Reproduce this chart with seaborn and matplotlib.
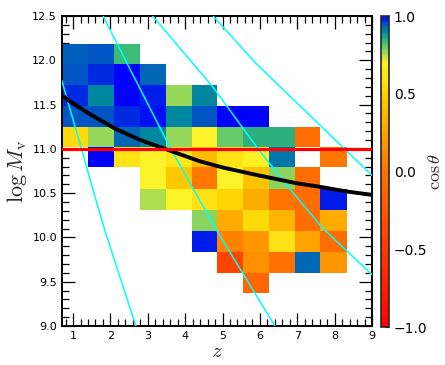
import numpy as np
import pandas as pd
import matplotlib
matplotlib.use("Agg")
import matplotlib.pyplot as plt
from matplotlib.colors import LinearSegmentedColormap, Normalize
from matplotlib.ticker import MultipleLocator
import seaborn as sns

# bin edges (redshift and log virial mass)
z_edges = [0.72, 1.41, 2.10, 2.79, 3.48, 4.17, 4.86, 5.55, 6.24, 6.93, 7.62, 8.33]
m_edges = [9.37, 9.60, 9.84, 10.07, 10.31, 10.55, 10.79, 11.02, 11.25, 11.48, 11.72, 11.96, 12.19]

# mean cos(theta) per cell, rows from the lowest mass bin upwards, None = empty
N = None
cos_theta = [
    [N, N, N, N, N, N, N, -0.12, N, N, N],
    [N, N, N, N, N, N, -0.40, 0.15, -0.02, 0.93, 0.18],
    [N, N, N, N, N, 0.98, 0.08, 0.18, 0.60, 0.25, -0.05],
    [N, N, N, N, N, 0.78, 0.30, 0.55, 0.35, -0.05, 0.30],
    [N, N, N, 0.75, 0.70, 0.60, 0.52, 0.30, 0.00, -0.05, 0.98],
    [N, N, N, 0.70, 0.45, 0.03, 0.70, 0.42, 0.78, -0.05, N],
    [N, 1.00, 0.60, 0.70, 0.62, 0.38, 0.60, 0.68, 0.92, N, 0.03],
    [0.55, 0.77, 0.93, 0.90, 0.77, 0.70, 0.80, 0.85, 0.85, -0.05, N],
    [0.95, 0.95, 0.97, 0.99, 0.90, 0.95, 1.00, 1.00, N, N, N],
    [0.97, 0.90, 1.00, 0.98, 0.77, 0.90, N, N, N, N, N],
    [0.95, 0.97, 1.00, 0.93, N, N, N, N, N, N, N],
    [0.94, 0.95, 0.83, N, N, N, N, N, N, N, N],
]

# black curve
curve_z = [0.76, 0.87, 1.2, 1.5, 2.12, 2.8, 3.46, 4.39, 5.0, 5.86, 7.0, 7.63, 8.3, 9.0]
curve_m = [11.59, 11.55, 11.46, 11.38, 11.23, 11.10, 11.00, 10.86, 10.79, 10.71, 10.61, 10.57, 10.52, 10.48]

# cyan lines
cyan_lines = {
    "a": ([0.70, 1.225, 1.535, 1.85, 2.68], [11.77, 11.00, 10.535, 10.08, 9.00]),
    "b": ([1.80, 3.59, 4.84, 6.40], [12.50, 11.02, 10.08, 9.00]),
    "c": ([3.13, 4.74, 5.95, 6.80, 7.69, 9.0], [12.50, 11.70, 11.00, 10.55, 10.10, 9.58]),
    "d": ([4.75, 5.86, 9.0], [12.50, 11.98, 10.70]),
}
m_cut = 11.0

cmap = LinearSegmentedColormap.from_list("cos", [
    (0.000, (1.0, 0.0, 0.0)),
    (0.500, (1.0, 0.45, 0.0)),
    (0.750, (1.0, 0.82, 0.0)),
    (0.850, (1.0, 0.95, 0.15)),
    (0.885, (0.6, 0.85, 0.35)),
    (0.915, (0.25, 0.75, 0.45)),
    (0.950, (0.0, 0.55, 0.6)),
    (0.975, (0.0, 0.35, 0.75)),
    (1.000, (0.0, 0.0, 1.0)),
])

sns.set_style("ticks")
plt.rcParams["mathtext.fontset"] = "cm"

fig = plt.figure(figsize=(4.45, 3.65), dpi=100)
ax = fig.add_axes([0.139, 0.107, 0.697, 0.849])
cax = fig.add_axes([0.856, 0.104, 0.018, 0.852])

vals = np.array([[np.nan if v is None else v for v in row] for row in cos_theta])
mesh = ax.pcolormesh(z_edges, m_edges, np.ma.masked_invalid(vals), cmap=cmap,
                     norm=Normalize(-1, 1), zorder=1)

lines_df = pd.DataFrame([(k, x, y) for k, (xs, ys) in cyan_lines.items() for x, y in zip(xs, ys)],
                        columns=["line", "z", "m"])
sns.lineplot(data=lines_df, x="z", y="m", units="line", estimator=None, sort=False,
             color="cyan", lw=1.1, ax=ax, zorder=3)
sns.lineplot(x=curve_z, y=curve_m, estimator=None, sort=False, color="black", lw=2.8, ax=ax, zorder=4)
ax.axhline(m_cut, color="red", lw=2.3, zorder=5)

ax.set_xlim(0.7, 9.0)
ax.set_ylim(9.0, 12.5)
ax.xaxis.set_major_locator(MultipleLocator(1))
ax.xaxis.set_minor_locator(MultipleLocator(0.2))
ax.yaxis.set_major_locator(MultipleLocator(0.5))
ax.yaxis.set_minor_locator(MultipleLocator(0.1))
ax.tick_params(which="both", direction="in", top=True, right=True, labelsize=8, width=0.9,
               color="black", labelcolor="black")
ax.tick_params(which="major", length=9.5)
ax.tick_params(which="minor", length=5)
for s in ax.spines.values():
    s.set_linewidth(1.4)
    s.set_color("black")
ax.set_xlabel("$z$", fontsize=15, labelpad=0)
ax.set_ylabel(r"$\log M_{\rm v}$", fontsize=16, labelpad=2)

cb = fig.colorbar(mesh, cax=cax, ticks=[-1.0, -0.5, 0.0, 0.5, 1.0])
cb.ax.tick_params(direction="in", length=3, width=0.8, labelsize=10, color="black", labelcolor="black")
cb.ax.set_yticklabels(["\u22121.0", "\u22120.5", "0.0", "0.5", "1.0"])
cb.outline.set_linewidth(1.2)
cb.set_label(r"$\cos\theta$", fontsize=13, labelpad=-1)

fig.savefig("out.png", dpi=100)
